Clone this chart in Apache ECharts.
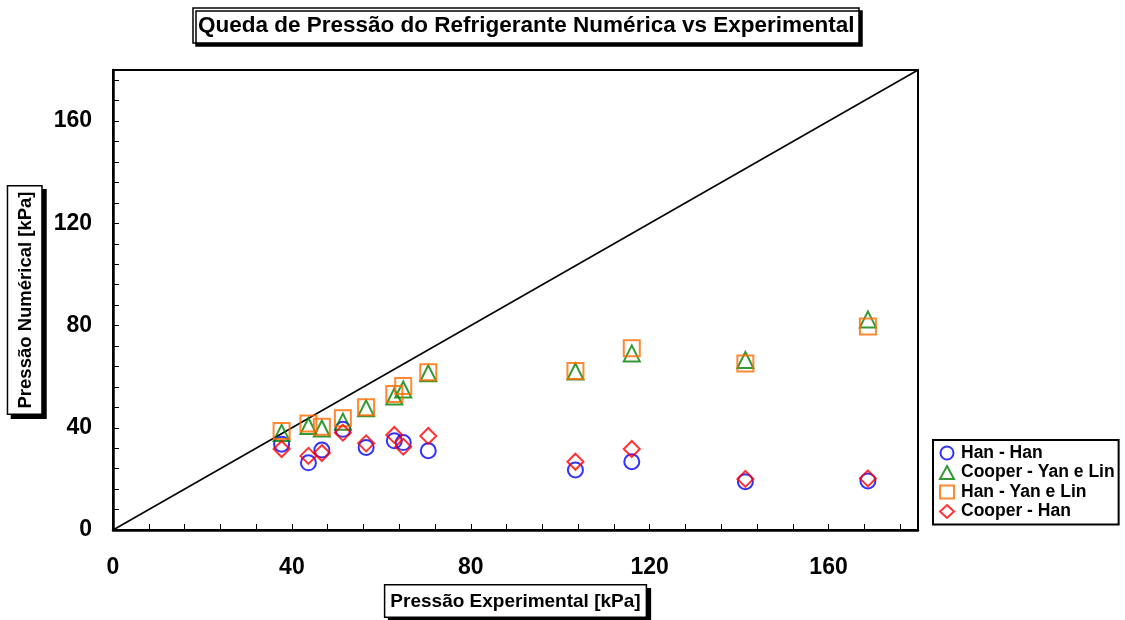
<!DOCTYPE html>
<html>
<head>
<meta charset="utf-8">
<script src="https://cdn.jsdelivr.net/npm/echarts@6/dist/echarts.min.js"></script>
<style>
html,body{margin:0;padding:0;background:#fff;}
#chart{width:1125px;height:620px;}
</style>
</head>
<body>
<div id="chart"></div>
<script>
// ---- data ----
const titleText = 'Queda de Pressão do Refrigerante Numérica vs Experimental';
const xAxisTitle = 'Pressão Experimental [kPa]';
const yAxisTitle = 'Pressão Numérical [kPa]';
const seriesNames = ['Han - Han', 'Cooper - Yan e Lin', 'Han - Yan e Lin', 'Cooper - Han'];
const expX = [37.7, 43.7, 46.7, 51.4, 56.6, 62.9, 64.9, 70.5, 103.4, 116, 141.4, 168.8];
const hanHan = [33.6, 26.3, 31.3, 39.4, 32.3, 34.9, 34.2, 31.0, 23.5, 26.7, 18.9, 19.2];
const cooperYanLin = [38.0, 40.7, 39.7, 42.4, 47.6, 52.2, 55.0, 61.3, 62.0, 69.1, 66.5, 82.4];
const hanYanLin = [38.7, 41.7, 40.4, 43.7, 48.0, 53.2, 56.3, 61.7, 62.2, 71.1, 65.2, 79.6];
const cooperHan = [31.7, 29.0, 30.1, 38.1, 33.9, 37.2, 32.6, 36.8, 26.7, 31.7, 20.0, 20.2];
const identityLine = [[0, 0], [180, 180]];
const axisMin = 0, axisMax = 180, tickStep = 8, labelStep = 40;

// ---- styling ----
const SANS = '"Liberation Sans",Arial,sans-serif';
const colors = ['#0000ff', '#008000', '#ff6a00', '#ff0000'];
const symbols = ['circle', 'triangle', 'rect', 'diamond'];
const sizes = [15, 16, 16, 16];
const valuesList = [hanHan, cooperYanLin, hanYanLin, cooperHan];

function pairs(ys) { return expX.map((x, i) => [x, ys[i]]); }

const boxStyle = {
  fontFamily: SANS, fontWeight: 'bold', color: '#000',
  backgroundColor: '#fff', borderColor: '#000', borderWidth: 1.5,
  shadowColor: '#000', shadowBlur: 0, shadowOffsetX: 4, shadowOffsetY: 4
};

function makeAxis(name, gap, pad, fs) {
  return {
    type: 'value', min: axisMin, max: axisMax, interval: tickStep,
    name: name, nameLocation: 'middle', nameGap: gap,
    nameTextStyle: Object.assign({}, boxStyle, { fontSize: fs, padding: pad }),
    axisLine: { show: true, lineStyle: { color: '#000', width: 2.5 } },
    axisTick: { show: true, inside: true, length: 6, lineStyle: { color: '#000', width: 1 } },
    splitLine: { show: false },
    axisLabel: {
      fontFamily: SANS, fontWeight: 'bold', fontSize: 23, color: '#000',
      formatter: v => (v % labelStep === 0 ? String(v) : ''),
      showMaxLabel: false
    }
  };
}

const xAxis = makeAxis(xAxisTitle, 55, [7, 5, 5, 5], 19);
xAxis.axisLabel.margin = 26;
const yAxis = makeAxis(yAxisTitle, 70, [8, 5, 6, 5], 18.5);
yAxis.axisLabel.margin = 21;

const series = seriesNames.map((nm, i) => ({
  name: nm, type: 'scatter', data: pairs(valuesList[i]),
  symbol: symbols[i], symbolSize: sizes[i],
  itemStyle: { color: 'rgba(255,255,255,0)', borderColor: colors[i], borderWidth: 2 },
  emphasis: { disabled: true }, z: 3 + i
}));
series.unshift({
  name: 'identity', type: 'line', data: identityLine, symbol: 'none',
  lineStyle: { color: '#000', width: 1.5 }, silent: true, z: 2
});

const chart = echarts.init(document.getElementById('chart'), null, { renderer: 'canvas' });
chart.setOption({
  animation: false,
  backgroundColor: '#fff',
  title: {
    text: titleText, left: 193, top: 8,
    padding: [6, 5, 6, 5],
    borderColor: '#000', borderWidth: 1.5, backgroundColor: '#fff',
    shadowColor: '#000', shadowBlur: 0, shadowOffsetX: 3, shadowOffsetY: 3,
    textStyle: { fontFamily: SANS, fontWeight: 'bold', fontSize: 22.5, color: '#000' }
  },
  legend: {
    data: seriesNames, orient: 'vertical', left: 933, top: 440,
    padding: [4, 4, 4, 6], itemGap: 1.5, itemWidth: 14, itemHeight: 13,
    borderColor: '#000', borderWidth: 2, backgroundColor: '#fff',
    textStyle: { fontFamily: SANS, fontWeight: 'bold', fontSize: 17.5, color: '#000', padding: [0, 0, 0, 2] }
  },
  grid: { left: 113, right: 207, top: 70, bottom: 90, outerBoundsMode: 'none', containLabel: false,
          show: true, borderColor: '#000', borderWidth: 2, backgroundColor: 'transparent' },
  xAxis: xAxis,
  yAxis: yAxis,
  series: series
});
</script>
</body>
</html>
